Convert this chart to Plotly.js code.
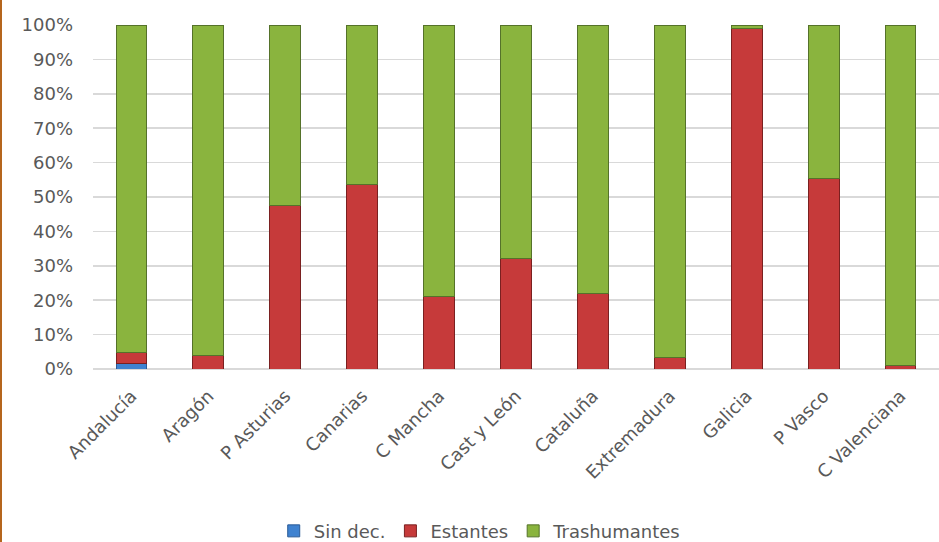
<!DOCTYPE html>
<html><head><meta charset="utf-8">
<script src="https://cdn.plot.ly/plotly-3.0.1.min.js"></script>
<style>html,body{margin:0;padding:0;background:#fff}#chart{width:937px;height:542px;border-left:2px solid #b5651d}</style>
</head><body><div id="chart"></div>
<script>
const categories = ["Andalucía","Aragón","P Asturias","Canarias","C Mancha","Cast y León","Cataluña","Extremadura","Galicia","P Vasco","C Valenciana"];
const sinDec = [1.5,0,0,0,0,0,0,0,0,0,0];
const estantes = [3.3,4,47.5,53.5,21,32,22,3.3,99,55.5,1];
const trashumantes = [95.2,96,52.5,46.5,79,68,78,96.7,1,44.5,99];
const yTicks = [0,10,20,30,40,50,60,70,80,90,100];

const font = {family:"DejaVu Sans, Liberation Sans, sans-serif", size:18, color:"#595959"};
function tr(name, y, color, line){
  return {type:"bar", name:name, x:categories, y:y, marker:{color:color, line:{color:line, width:1}}, hoverinfo:"skip"};
}
const data = [
  tr("Sin dec.", sinDec, "#3f82d0", "#2a5a96"),
  tr("Estantes", estantes, "#c63a3a", "#7a2020"),
  tr("Trashumantes", trashumantes, "#8ab43e", "#55722a")
];
const layout = {
  width:937, height:542,
  margin:{l:91, r:0, t:25, b:173, autoexpand:false},
  barmode:"stack", bargap:0.6,
  paper_bgcolor:"#fff", plot_bgcolor:"#fff",
  font:font,
  showlegend:true,
  legend:{orientation:"h", xref:"container", yref:"container", x:0.29, xanchor:"left", y:0.02, yanchor:"middle", font:font, traceorder:"normal", itemwidth:30, entrywidth:0},
  xaxis:{tickangle:-45, tickfont:font, showgrid:false, zeroline:false, showline:false, ticks:"", ticklabelstandoff:12, automargin:false},
  yaxis:{range:[0,100], tickvals:yTicks, ticktext:yTicks.map(v=>v+"%"), tickfont:font, gridcolor:"#d9d9d9", gridwidth:1.5, zeroline:true, zerolinecolor:"#d9d9d9", zerolinewidth:1.5, showline:false, ticks:"", ticklabelstandoff:19, automargin:false}
};
Plotly.newPlot("chart", data, layout, {displayModeBar:false, staticPlot:true});
</script></body></html>
